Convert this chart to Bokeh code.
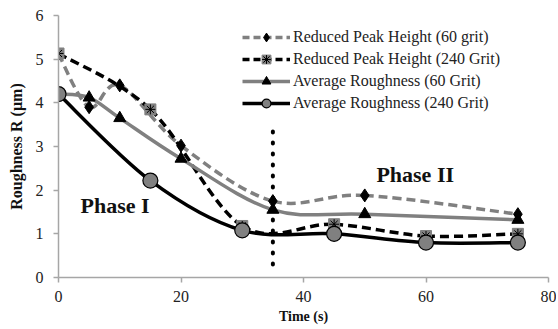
from bokeh.plotting import figure
from bokeh.models import Legend, LegendItem, Label, Range1d, FixedTicker
from bokeh.embed import file_html
from bokeh.resources import INLINE

# ---- data ----
rph60_x = [0, 5, 10, 20, 35, 50, 75]
rph60_y = [5.12, 3.90, 4.40, 3.02, 1.75, 1.88, 1.45]

rph240_x = [0, 15, 30, 45, 60, 75]
rph240_y = [5.13, 3.85, 1.18, 1.22, 0.95, 1.00]

ar60_x = [0, 5, 10, 20, 35, 50, 75]
ar60_y = [4.20, 4.12, 3.65, 2.72, 1.55, 1.45, 1.32]

ar240_x = [0, 15, 30, 45, 60, 75]
ar240_y = [4.20, 2.22, 1.08, 1.00, 0.80, 0.80]

phase_line_x = 35
phase_line_y = [0.3, 3.55]

x_ticks = [0, 20, 40, 60, 80]
y_ticks = [0, 1, 2, 3, 4, 5, 6]

SERIF = "Liberation Serif"
GRAY = "#808080"
NAN = float("nan")


def smooth_segments(xs, ys):
    """Bezier segments (Catmull-Rom style smoothing, like a spreadsheet smoothed line)."""
    n = len(xs)
    seg = dict(x0=[], y0=[], x1=[], y1=[], cx0=[], cy0=[], cx1=[], cy1=[])
    for i in range(n - 1):
        xp, yp = (xs[i - 1], ys[i - 1]) if i > 0 else (xs[i], ys[i])
        xn, yn = (xs[i + 2], ys[i + 2]) if i + 2 < n else (xs[i + 1], ys[i + 1])
        seg["x0"].append(xs[i]); seg["y0"].append(ys[i])
        seg["x1"].append(xs[i + 1]); seg["y1"].append(ys[i + 1])
        seg["cx0"].append(xs[i] + (xs[i + 1] - xp) / 6.0)
        seg["cy0"].append(ys[i] + (ys[i + 1] - yp) / 6.0)
        seg["cx1"].append(xs[i + 1] - (xn - xs[i]) / 6.0)
        seg["cy1"].append(ys[i + 1] - (yn - ys[i]) / 6.0)
    return seg


p = figure(width=556, height=327, output_backend="svg", toolbar_location=None,
           x_range=Range1d(0, 80), y_range=Range1d(0, 6),
           min_border_left=58, min_border_right=8, min_border_top=15, min_border_bottom=50)
p.outline_line_color = None
p.xgrid.visible = False
p.ygrid.visible = False

for ax in (p.xaxis[0], p.yaxis[0]):
    ax.axis_line_color = "#a6a6a6"
    ax.axis_line_width = 1.5
    ax.major_tick_line_color = "#a6a6a6"
    ax.major_tick_line_width = 1.5
    ax.major_tick_out = 5
    ax.major_tick_in = 0
    ax.minor_tick_line_color = None
    ax.major_label_text_font = SERIF
    ax.major_label_text_font_size = "16px"
    ax.major_label_text_color = "#222222"
    ax.axis_label_text_font = SERIF
    ax.axis_label_text_font_style = "bold"
    ax.axis_label_text_color = "#111111"

p.xaxis.axis_label_text_font_size = "14px"
p.yaxis.axis_label_text_font_size = "16px"
p.xaxis.ticker = FixedTicker(ticks=x_ticks)
p.yaxis.ticker = FixedTicker(ticks=y_ticks)
p.xaxis.axis_label = "Time (s)"
p.yaxis.axis_label = "Roughness R (µm)"
p.xaxis.major_label_standoff = 8
p.yaxis.major_label_standoff = 10
p.xaxis.axis_label_standoff = 4
p.yaxis.axis_label_standoff = 8

# vertical dotted phase divider
p.line([phase_line_x, phase_line_x], phase_line_y, line_color="black", line_width=4,
       line_dash="1 10", line_cap="round")

# series (smoothed lines)
s = smooth_segments(rph60_x, rph60_y)
p.bezier(**s, line_color=GRAY, line_width=3.5, line_dash="9 5")
s = smooth_segments(rph240_x, rph240_y)
p.bezier(**s, line_color="black", line_width=3.5, line_dash="9 5")
s = smooth_segments(ar60_x, ar60_y)
p.bezier(**s, line_color=GRAY, line_width=3.5)
s = smooth_segments(ar240_x, ar240_y)
p.bezier(**s, line_color="black", line_width=3.5)

r1m = p.scatter(rph60_x, rph60_y, marker="diamond", size=13, fill_color="black", line_color="black")
r2m = p.scatter(rph240_x, rph240_y, marker="square", size=11, fill_color=GRAY, line_color=GRAY)
r2a = p.scatter(rph240_x, rph240_y, marker="asterisk", size=10, line_color="black", line_width=1)
r3m = p.scatter(ar60_x, ar60_y, marker="triangle", size=12, fill_color="black", line_color="black")
r4m = p.scatter(ar240_x, ar240_y, marker="circle", size=15, fill_color=GRAY, line_color="black", line_width=1.2)

# legend line samples (renderers with no visible data, only used for the legend glyph)
l1 = p.line([NAN], [NAN], line_color=GRAY, line_width=3.5, line_dash="7 4")
l2 = p.line([NAN], [NAN], line_color="black", line_width=3.5, line_dash="7 4")
l3 = p.line([NAN], [NAN], line_color=GRAY, line_width=3.5)
l4 = p.line([NAN], [NAN], line_color="black", line_width=3.5)

legend = Legend(items=[
    LegendItem(label="Reduced Peak Height (60 grit)", renderers=[l1, r1m]),
    LegendItem(label="Reduced Peak Height (240 Grit)", renderers=[l2, r2m, r2a]),
    LegendItem(label="Average Roughness (60 Grit)", renderers=[l3, r3m]),
    LegendItem(label="Average Roughness (240 Grit)", renderers=[l4, r4m]),
], location=(184, 163))
legend.background_fill_alpha = 0
legend.border_line_color = None
legend.label_text_font = SERIF
legend.label_text_font_size = "16px"
legend.label_text_color = "#222222"
legend.glyph_width = 48
legend.glyph_height = 22
legend.label_height = 22
legend.spacing = 0
legend.label_standoff = 3
legend.padding = 0
legend.margin = 0
p.add_layout(legend)

p.add_layout(Label(x=3.6, y=1.65, text="Phase I", text_font=SERIF, text_font_size="22px",
                   text_font_style="bold", text_baseline="middle", text_color="#111111"))
p.add_layout(Label(x=51.9, y=2.36, text="Phase II", text_font=SERIF, text_font_size="22px",
                   text_font_style="bold", text_baseline="middle", text_color="#111111"))

open("out.html", "w").write(file_html(p, INLINE))
